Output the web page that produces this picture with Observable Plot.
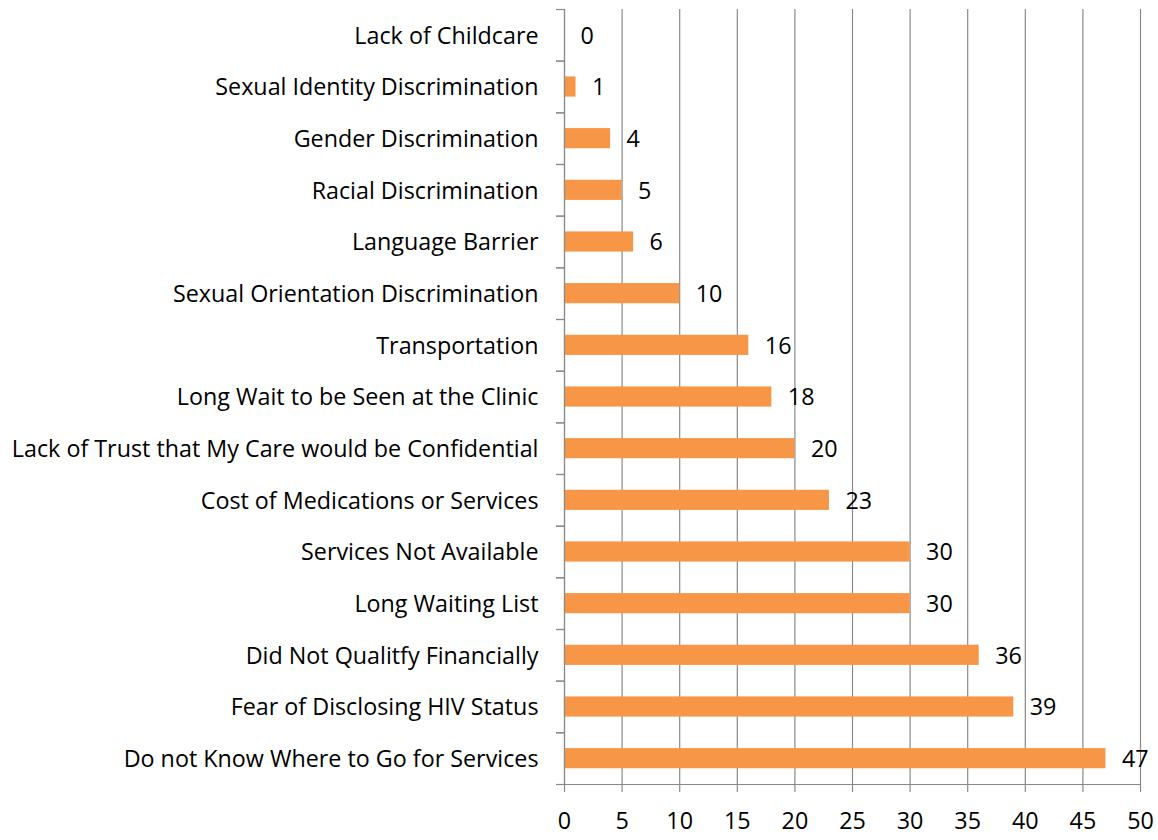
<!DOCTYPE html>
<html>
<head>
<meta charset="utf-8">
<script src="https://cdn.jsdelivr.net/npm/d3@7"></script>
<script src="https://cdn.jsdelivr.net/npm/@observablehq/plot@0.6"></script>
<style>
  html, body { margin: 0; padding: 0; background: #fff; }
  #chart svg { display: block; }
</style>
</head>
<body>
<div id="chart"></div>
<script>
const categories = [
  "Lack of Childcare",
  "Sexual Identity Discrimination",
  "Gender Discrimination",
  "Racial Discrimination",
  "Language Barrier",
  "Sexual Orientation Discrimination",
  "Transportation",
  "Long Wait to be Seen at the Clinic",
  "Lack of Trust that My Care would be Confidential",
  "Cost of Medications or Services",
  "Services Not Available",
  "Long Waiting List",
  "Did Not Qualitfy Financially",
  "Fear of Disclosing HIV Status",
  "Do not Know Where to Go for Services"
];
const values = [0, 1, 4, 5, 6, 10, 16, 18, 20, 23, 30, 30, 36, 39, 47];
const xTicks = [0, 5, 10, 15, 20, 25, 30, 35, 40, 45, 50];

const data = categories.map((c, i) => ({category: c, value: values[i]}));

const W = 1158, H = 840;
const mT = 9, mB = 56, mL = 564, mR = 18;
const step = (H - mT - mB) / categories.length;

const font = "'Open Sans', sans-serif";
const fs = 23.3;
const grid = "#8a8a8a";

const chart = Plot.plot({
  width: W,
  height: H,
  marginTop: mT,
  marginBottom: mB,
  marginLeft: mL,
  marginRight: mR,
  style: {fontFamily: font, fontSize: fs + "px", color: "#000", background: "#fff"},
  x: {domain: [0, 50], label: null},
  y: {domain: categories, paddingInner: 0.61, paddingOuter: 0.305, round: false, label: null},
  marks: [
    Plot.gridX(xTicks, {stroke: grid, strokeOpacity: 1, strokeWidth: 1.2}),
    Plot.barX(data, {x: "value", y: "category", fill: "#F79646"}),
    Plot.text(data, {x: "value", y: "category", text: d => String(d.value), dx: 16, dy: 1, textAnchor: "start", fill: "#000", fontSize: fs}),
    Plot.axisX(xTicks, {anchor: "bottom", tickSize: 8, tickPadding: 20, stroke: grid, strokeOpacity: 1, strokeWidth: 1.2, fill: "#000", fontSize: fs, label: null}),
    Plot.axisY({anchor: "left", tickSize: 0, tickPadding: 26, dy: 1, fill: "#000", fontSize: fs, label: null}),
    Plot.axisY({anchor: "left", tickSize: 8, text: null, dy: -step / 2, stroke: grid, strokeOpacity: 1, strokeWidth: 1.2, label: null}),
    Plot.axisY({anchor: "left", tickSize: 8, text: null, dy: step / 2, stroke: grid, strokeOpacity: 1, strokeWidth: 1.2, label: null}),
    Plot.frame({anchor: "left", stroke: grid, strokeWidth: 1.2}),
    Plot.frame({anchor: "bottom", stroke: grid, strokeWidth: 1.2})
  ]
});
document.getElementById("chart").appendChild(chart);
</script>
</body>
</html>
